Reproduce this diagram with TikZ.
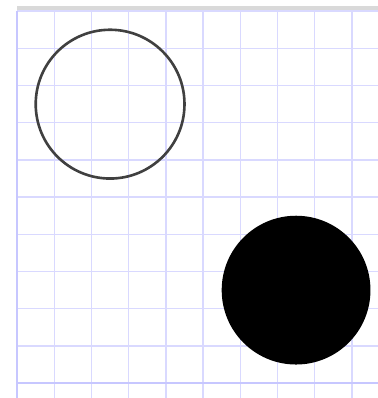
\documentclass[tikz,border=0pt]{standalone}
\usepackage{tikz}

\begin{document}
\begin{tikzpicture}[
    gridline/.style={draw=blue!15, line width=1.1pt},
    axisline/.style={draw=blue!22, line width=1.4pt},
    ringcircle/.style={draw=black!75, line width=2pt},
    discircle/.style={fill=black}
]
\useasboundingbox (-0.46,-0.40) rectangle (9.70,10.30);
\fill[black!15] (0,10.02) rectangle (9.70,10.14);
\draw[gridline] (0,-0.40) grid (9.70,10);
\draw[axisline] (0,-0.40) -- (0,10);
\draw[axisline] (0,0) -- (9.70,0);

\draw[ringcircle] (2.5,7.5) circle (2);
\fill[discircle] (7.5,2.5) circle (2);
\end{tikzpicture}
\end{document}
